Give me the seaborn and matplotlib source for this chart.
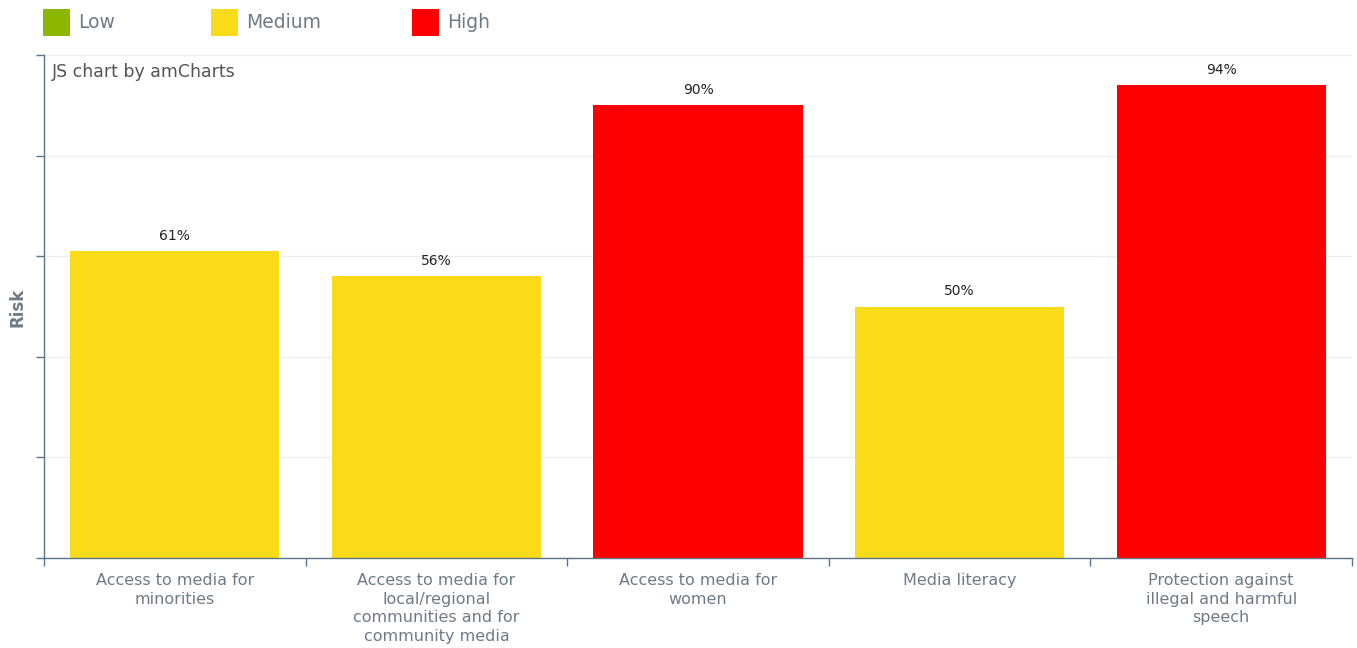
import matplotlib
matplotlib.use("Agg")
import matplotlib.pyplot as plt
import seaborn as sns
import pandas as pd
from matplotlib.patches import Rectangle

categories = [
    "Access to media for\nminorities",
    "Access to media for\nlocal/regional\ncommunities and for\ncommunity media",
    "Access to media for\nwomen",
    "Media literacy",
    "Protection against\nillegal and harmful\nspeech",
]
values = [61, 56, 90, 50, 94]
levels = ["Medium", "Medium", "High", "Medium", "High"]
level_names = ["Low", "Medium", "High"]
level_colors = {"Low": "#8DB600", "Medium": "#FADB1A", "High": "#FF0000"}

sns.set_theme(style="white")
plt.rcParams["font.family"] = ["DejaVu Sans"]

axis_col = "#5B7486"
text_col = "#6E7B87"

W, H = 1357, 648
fig = plt.figure(figsize=(W / 100, H / 100), dpi=100)
ax = fig.add_axes([44 / W, 90 / H, 1308 / W, 503 / H])

df = pd.DataFrame({"category": categories, "value": values, "level": levels})
sns.barplot(data=df, x="category", y="value", hue="level", hue_order=level_names,
            palette=level_colors, dodge=False, width=0.8, ax=ax, legend=False,
            saturation=1, edgecolor="none")

for cont in ax.containers:
    ax.bar_label(cont, labels=[f"{int(v)}%" if v == v else "" for v in cont.datavalues],
                 padding=6, fontsize=10, color="#222222")

ax.set_ylim(0, 100)
ax.set_xlim(-0.5, len(categories) - 0.5)
ax.set_yticks([0, 20, 40, 60, 80, 100])
ax.set_yticklabels([])
ax.yaxis.grid(True, color="#EEEEEE", linewidth=1)
ax.set_axisbelow(True)

ax.set_xticks(range(len(categories)))
ax.set_xticklabels(categories, fontsize=11.5, color=text_col, va="top", linespacing=1.3)
ax.set_xticks([i - 0.5 for i in range(len(categories) + 1)], minor=True)
ax.tick_params(axis="x", which="major", length=0, pad=11)
ax.tick_params(axis="x", which="minor", length=6, width=1, color=axis_col, direction="out", bottom=True)
ax.tick_params(axis="y", which="major", length=6, width=1, color=axis_col, direction="out", left=True)

for s in ["top", "right"]:
    ax.spines[s].set_visible(False)
for s in ["left", "bottom"]:
    ax.spines[s].set_color(axis_col)
    ax.spines[s].set_linewidth(1)

ax.set_xlabel("")
ax.set_ylabel("")
fig.text(17 / W, 1 - 307 / H, "Risk", rotation=90, fontsize=12, fontweight="bold",
         color=text_col, ha="center", va="center")

ax.text(0.006, 0.985, "JS chart by amCharts", transform=ax.transAxes, fontsize=12.5,
        color="#555555", va="top", ha="left")

# legend row
legend_x = [43, 211, 412]
for name, lx in zip(level_names, legend_x):
    fig.add_artist(Rectangle((lx / W, 1 - 36 / H), 27 / W, 27 / H, transform=fig.transFigure,
                             facecolor=level_colors[name], edgecolor="none"))
    fig.text((lx + 35) / W, 1 - 22.5 / H, name, fontsize=13.5, color=text_col,
             ha="left", va="center")

fig.savefig("out.png", dpi=100)
